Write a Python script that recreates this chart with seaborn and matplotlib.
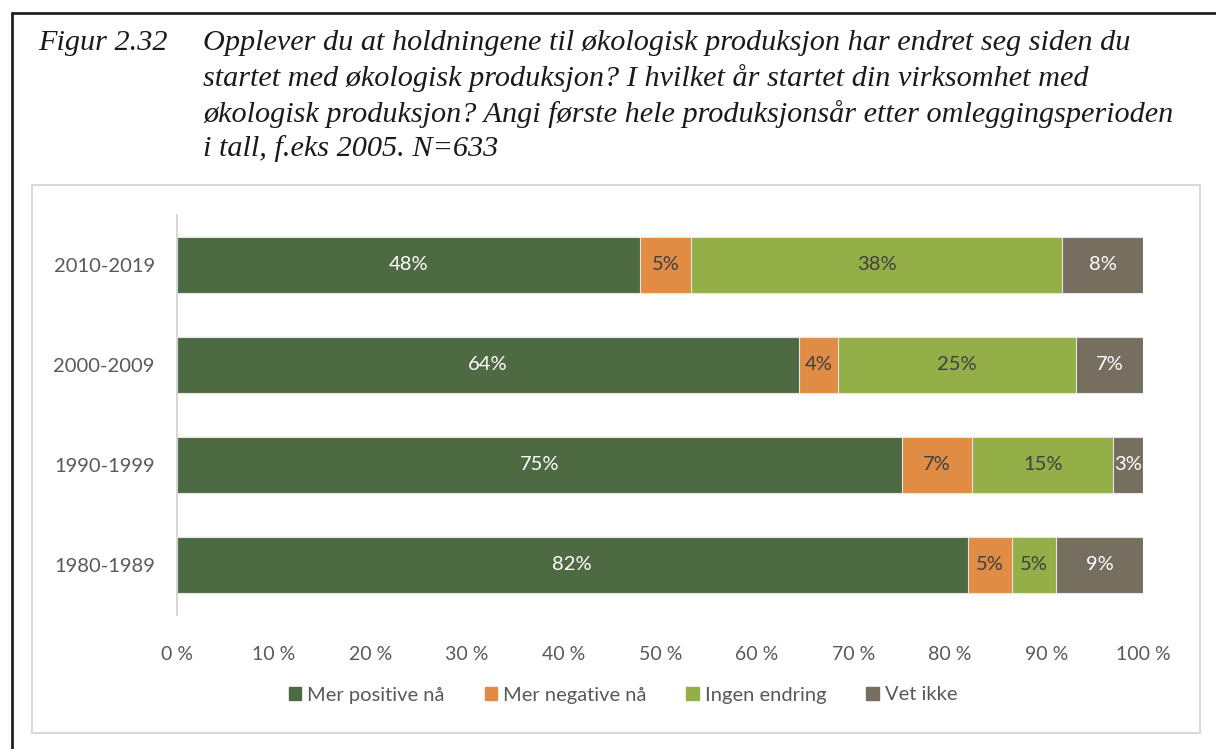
# stacked 100% bar chart - holdninger etter oppstartsår
import numpy as np
import pandas as pd
import seaborn as sns
import matplotlib.pyplot as plt
from matplotlib.patches import Rectangle
from matplotlib.lines import Line2D

# data (percent)
periods = ['2010-2019', '2000-2009', '1990-1999', '1980-1989']
mer_positive = [47.9, 64.4, 75.0, 81.8]
mer_negative = [5.3, 4.0, 7.3, 4.6]
ingen_endring = [38.4, 24.6, 14.6, 4.6]
vet_ikke = [8.4, 7.0, 3.1, 9.0]
series_names = ['Mer positive nå', 'Mer negative nå', 'Ingen endring', 'Vet ikke']
xticks = np.arange(0, 101, 10)

colors = ['#4E6A43', '#E08C45', '#94AE48', '#766E5F']
label_colors = ['white', '#404040', '#404040', 'white']

df = pd.DataFrame({'period': periods,
                   series_names[0]: mer_positive,
                   series_names[1]: mer_negative,
                   series_names[2]: ingen_endring,
                   series_names[3]: vet_ikke})
cum = df[series_names].cumsum(axis=1)

sns.set_style('white')
plt.rcParams['font.family'] = ['Lato', 'DejaVu Sans']

fig = plt.figure(figsize=(12.16, 7.49), dpi=100)
ax = fig.add_axes([177/1216, 1-615/749, (1143.4-177)/1216, 400/749])

# draw layers from the back (total) to front (first series)
for i in range(len(series_names) - 1, -1, -1):
    sns.barplot(x=cum[series_names[i]], y=df['period'], color=colors[i],
                width=0.556, orient='h', ax=ax, edgecolor='#E6E6E6',
                linewidth=0.8, saturation=1)

# segment labels
for i, name in enumerate(series_names):
    left = cum[name] - df[name]
    for j in range(len(periods)):
        ax.text(left[j] + df[name][j]/2, j, '%.0f%%' % df[name][j],
                ha='center', va='center', fontsize=14.5, color=label_colors[i])

ax.set_xlim(0, 100)
ax.set_ylim(3.5, -0.5)
ax.set_xticks(xticks)
ax.set_xticklabels(['%d %%' % t for t in xticks], fontsize=14, color='#595959')
ax.tick_params(axis='x', pad=22, length=0)
ax.tick_params(axis='y', pad=16, length=0, labelsize=14.5, labelcolor='#595959')
ax.set_xlabel('')
ax.set_ylabel('')
for s in ['top', 'right', 'bottom']:
    ax.spines[s].set_visible(False)
ax.spines['left'].set_color('#D0D0D0')
ax.spines['left'].set_linewidth(1.2)

# legend
handles = [Rectangle((0, 0), 1, 1, color=c) for c in colors]
fig.legend(handles, series_names, loc='center', bbox_to_anchor=(623/1216, 1-695/749),
           ncol=4, frameon=False, fontsize=14.5, handlelength=0.6, handleheight=0.6,
           handletextpad=0.3, columnspacing=2.0, labelcolor='#595959')

# chart box and page frame
fig.patches.append(Rectangle((32/1216, 1-733/749), (1200-32)/1216, (733-185)/749,
                             transform=fig.transFigure, fill=False,
                             edgecolor='#D9D9D9', linewidth=1.5))
fig.lines.append(Line2D([12/1216, 1], [1-13/749, 1-13/749], transform=fig.transFigure,
                        color='#222222', linewidth=2))
fig.lines.append(Line2D([12/1216, 12/1216], [0, 1-13/749], transform=fig.transFigure,
                        color='#222222', linewidth=2))

# title
title_lines = ['Opplever du at holdningene til økologisk produksjon har endret seg siden du',
               'startet med økologisk produksjon? I hvilket år startet din virksomhet med',
               'økologisk produksjon? Angi første hele produksjonsår etter omleggingsperioden',
               'i tall, f.eks 2005. N=633']
fig.text(38/1216, 1-43/749, 'Figur 2.32', fontsize=21.8, style='italic',
         family='Liberation Serif', color='#1A1A1A', va='center')
for k, line in enumerate(title_lines):
    fig.text(203/1216, 1-(43 + 35.3*k)/749, line, fontsize=21.8, style='italic',
             family='Liberation Serif', color='#1A1A1A', va='center')

plt.savefig('out.png', dpi=100)
